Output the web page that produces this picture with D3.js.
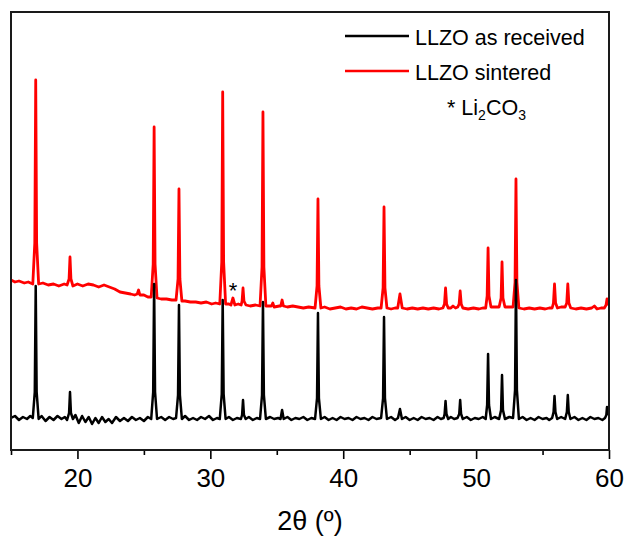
<!DOCTYPE html>
<html lang="en"><head>
<meta charset="utf-8">
<title>XRD LLZO</title>
<script type="text/javascript" src="https://cdn.jsdelivr.net/npm/d3@7/dist/d3.min.js"></script>
<style type="text/css">
body{margin:0;background:#fff;}
</style>
</head>
<body>
<script type="text/javascript">

// 2theta (deg), intensity (a.u., stacked)
var sintered = [
[15.0,170],[15.3,168],[15.6,169],[16.0,167],[16.3,168],[16.64,166],
[16.79,207],[16.86,370],[16.93,207],[17.08,166],
[17.4,167],[17.8,165],[18.2,166],[18.6,164],[19.0,166],[19.22,165],
[19.37,171],[19.44,193],[19.51,171],[19.66,164],
[20.0,166],[20.4,164],[20.8,166],[21.2,165],[21.6,163],[22.0,165],[22.4,163],[22.8,161],[23.2,158],[23.6,157],[24.0,156],[24.3,155],
[24.5,156],[24.6,160],[24.7,155],
[25.0,155],[25.3,153],[25.55,153],
[25.70,186],[25.77,323],[25.84,186],[25.99,152],
[26.3,151],[26.7,151],[27.1,150],[27.42,150],
[27.57,171],[27.64,261],[27.71,171],[27.86,149],
[28.1,149],[28.5,148],[28.9,148],[29.3,147],[29.7,148],[30.1,146],[30.4,147],[30.71,146],
[30.86,188],[30.93,358],[31.00,188],[31.15,146],
[31.4,146],[31.55,145],[31.7,152],[31.85,145],[32.1,146],[32.32,145],
[32.39,149],[32.46,162],[32.53,149],[32.68,145],
[33.0,144],[33.4,145],[33.74,144],
[33.89,183],[33.96,338],[34.03,183],[34.18,144],
[34.5,144],[34.6,144],[34.7,147],[34.8,143],[35.2,144],[35.3,144],[35.4,150],[35.5,144],[35.8,143],[36.2,144],[36.6,143],[37.0,142],[37.4,143],[37.88,142],
[38.03,164],[38.1,251],[38.17,164],[38.32,142],
[38.6,143],[39.0,141],[39.4,142],[39.8,143],[40.2,141],[40.6,142],[41.0,141],[41.4,143],[41.8,142],[42.2,141],[42.6,142],[42.85,142],
[43.0,162],[43.07,243],[43.14,162],[43.29,142],
[43.6,141],[43.9,142],[44.1,142],[44.27,156],[44.44,142],[44.8,141],[45.2,142],[45.6,141],[46.0,142],[46.4,141],[46.8,142],[47.2,141],[47.5,142],
[47.62,146],[47.7,162],[47.78,146],[47.9,142],
[48.1,142],[48.26,144],[48.45,142],[48.62,143],
[48.72,146],[48.8,159],[48.88,146],[49.0,142],
[49.4,141],[49.8,142],[50.2,141],[50.5,142],[50.72,142],
[50.83,154],[50.9,202],[50.97,154],[51.12,143],
[51.4,143],[51.73,143],
[51.88,152],[51.95,188],[52.02,152],[52.17,143],
[52.5,143],[52.78,143],
[52.93,168],[53.0,271],[53.07,168],[53.22,142],
[53.6,141],[54.0,142],[54.4,141],[54.8,142],[55.2,141],[55.5,142],[55.72,142],
[55.82,147],[55.9,166],[55.98,147],[56.12,142],
[56.4,143],[56.7,143],
[56.82,147],[56.9,166],[56.98,147],[57.12,142],
[57.5,141],[57.9,142],[58.3,141],[58.7,142],[58.9,144],[59.1,141],[59.4,142],[59.65,142],
[59.78,145],[59.85,151],[59.92,146],[60.0,148]
];

var received = [
[15.0,32],[15.3,34],[15.6,30],[15.9,33],[16.2,31],[16.45,34],[16.64,32],
[16.79,58],[16.86,164],[16.93,58],[17.08,31],
[17.3,34],[17.6,29],[17.9,33],[18.2,30],[18.5,34],[18.8,31],[19.05,33],[19.22,30],
[19.37,37],[19.44,58],[19.51,37],[19.66,31],
[19.85,35],[20.1,27],[20.35,34],[20.6,28],[20.85,33],[21.1,26],[21.35,32],[21.6,27],[21.85,33],[22.1,28],[22.35,31],[22.6,27],[22.9,33],[23.2,29],[23.5,32],[23.8,29],[24.1,33],[24.4,30],[24.7,32],[25.0,29],[25.3,33],[25.55,31],
[25.70,58],[25.77,166],[25.84,58],[25.99,31],
[26.3,33],[26.6,30],[26.9,33],[27.2,31],[27.42,32],
[27.57,55],[27.64,145],[27.71,55],[27.86,31],
[28.1,34],[28.4,30],[28.7,32],[29.0,30],[29.3,33],[29.6,31],[29.9,34],[30.2,30],[30.5,32],[30.71,31],
[30.86,56],[30.93,150],[31.0,56],[31.15,31],
[31.4,33],[31.7,30],[32.0,32],[32.3,31],
[32.39,35],[32.46,50],[32.53,35],[32.66,31],
[32.9,33],[33.2,30],[33.5,32],[33.74,31],
[33.89,55],[33.96,148],[34.03,55],[34.18,31],
[34.5,33],[34.8,31],[35.1,32],[35.28,31],[35.4,40],[35.52,31],[35.8,33],[36.1,30],[36.4,32],[36.7,31],[37.0,33],[37.3,30],[37.6,32],[37.88,31],
[38.03,52],[38.1,137],[38.17,52],[38.32,31],
[38.6,33],[38.9,30],[39.2,32],[39.5,30],[39.8,33],[40.1,31],[40.4,32],[40.7,30],[41.0,33],[41.3,31],[41.6,32],[41.9,30],[42.2,33],[42.5,31],[42.85,32],
[43.0,52],[43.07,133],[43.14,52],[43.29,31],
[43.6,33],[43.9,30],[44.12,32],[44.27,41],[44.42,31],[44.7,33],[45.0,30],[45.3,32],[45.6,30],[45.9,33],[46.2,31],[46.5,32],[46.8,30],[47.1,33],[47.35,31],[47.56,32],
[47.63,36],[47.7,49],[47.77,36],[47.9,31],
[48.1,33],[48.35,31],[48.6,32],
[48.73,36],[48.8,50],[48.87,36],[49.0,31],
[49.3,33],[49.6,30],[49.9,32],[50.2,31],[50.5,33],[50.72,31],
[50.83,45],[50.9,96],[50.97,45],[51.12,31],
[51.4,33],[51.73,31],
[51.88,40],[51.95,75],[52.02,40],[52.17,31],
[52.5,33],[52.78,32],
[52.93,60],[53.0,170],[53.07,60],[53.22,31],
[53.5,33],[53.8,30],[54.1,32],[54.4,30],[54.7,33],[55.0,31],[55.3,32],[55.5,30],[55.72,32],
[55.83,38],[55.9,54],[55.97,38],[56.1,31],
[56.4,33],[56.7,31],
[56.83,38],[56.9,55],[56.97,38],[57.1,31],
[57.4,33],[57.7,30],[58.0,32],[58.3,30],[58.6,33],[58.9,31],[59.2,32],[59.5,30],[59.7,32],
[59.8,35],[59.85,43],[59.92,36],[60.0,40]
];

var majorTicks = [20, 30, 40, 50, 60];
var minorTicks = [15, 25, 35, 45, 55];
var seriesNames = ["LLZO as received", "LLZO sintered"];
var seriesColors = ["#000000", "#ff0000"];

var width = 626;
var height = 538;
var plot = {left:11, top:12, right:609, bottom:450};

var svg = d3.select("body").append("svg").attr("width", width).attr("height", height)
    .style("font-family", "'Liberation Sans', Arial, sans-serif");

var x = d3.scaleLinear().domain([15, 60]).range([plot.left, plot.right]);
var y = d3.scaleLinear().domain([0, 438]).range([plot.bottom, plot.top]);

var line = d3.line().x(d => x(d[0])).y(d => y(d[1]));

svg.append("clipPath").attr("id", "clip").append("rect")
    .attr("x", plot.left).attr("y", plot.top)
    .attr("width", plot.right - plot.left).attr("height", plot.bottom - plot.top);

var g = svg.append("g").attr("clip-path", "url(#clip)");
g.append("path").datum(sintered).attr("d", line).attr("fill", "none")
    .attr("stroke", seriesColors[1]).attr("stroke-width", 2.8).attr("stroke-linejoin", "round");
g.append("path").datum(received).attr("d", line).attr("fill", "none")
    .attr("stroke", seriesColors[0]).attr("stroke-width", 2.5).attr("stroke-linejoin", "round");

// asterisk over Li2CO3 peak
svg.append("text").attr("x", x(31.7)).attr("y", y(152))
    .attr("text-anchor", "middle").attr("font-size", "22px").text("*");

// axis
var xAxis = d3.axisBottom(x).tickValues(majorTicks).tickSize(9).tickPadding(10).tickFormat(d3.format("d"));
var gX = svg.append("g").attr("transform", "translate(0," + plot.bottom + ")").call(xAxis);
gX.select(".domain").remove();
gX.selectAll("line").attr("stroke", "#000").attr("stroke-width", 1.6);
gX.selectAll("text").attr("font-size", "26px").attr("fill", "#000").style("font-family", "'Liberation Sans', Arial, sans-serif");

var xMinor = d3.axisBottom(x).tickValues(minorTicks).tickSize(5).tickFormat("");
var gM = svg.append("g").attr("transform", "translate(0," + plot.bottom + ")").call(xMinor);
gM.select(".domain").remove();
gM.selectAll("line").attr("stroke", "#000").attr("stroke-width", 1.6);

// frame
svg.append("rect").attr("x", plot.left).attr("y", plot.top)
    .attr("width", plot.right - plot.left).attr("height", plot.bottom - plot.top)
    .attr("fill", "none").attr("stroke", "#1a1a1a").attr("stroke-width", 2);

svg.append("text").attr("x", (plot.left + plot.right) / 2).attr("y", 530)
    .attr("text-anchor", "middle").attr("font-size", "27px").text("2θ (º)");

// legend
var legend = svg.append("g");
seriesNames.forEach(function(name, i) {
    var yy = 36 + i * 35;
    legend.append("line").attr("x1", 345).attr("x2", 409).attr("y1", yy).attr("y2", yy)
        .attr("stroke", seriesColors[i]).attr("stroke-width", 2.4);
    legend.append("text").attr("x", 415).attr("y", yy + 9).attr("font-size", "21.5px").text(name);
});
var li = legend.append("text").attr("x", 447).attr("y", 115).attr("font-size", "21.5px");
li.append("tspan").text("* Li");
li.append("tspan").attr("font-size", "14px").attr("dy", 5).text("2");
li.append("tspan").attr("dy", -5).text("CO");
li.append("tspan").attr("font-size", "14px").attr("dy", 5).text("3");

</script>
</body>
</html>
